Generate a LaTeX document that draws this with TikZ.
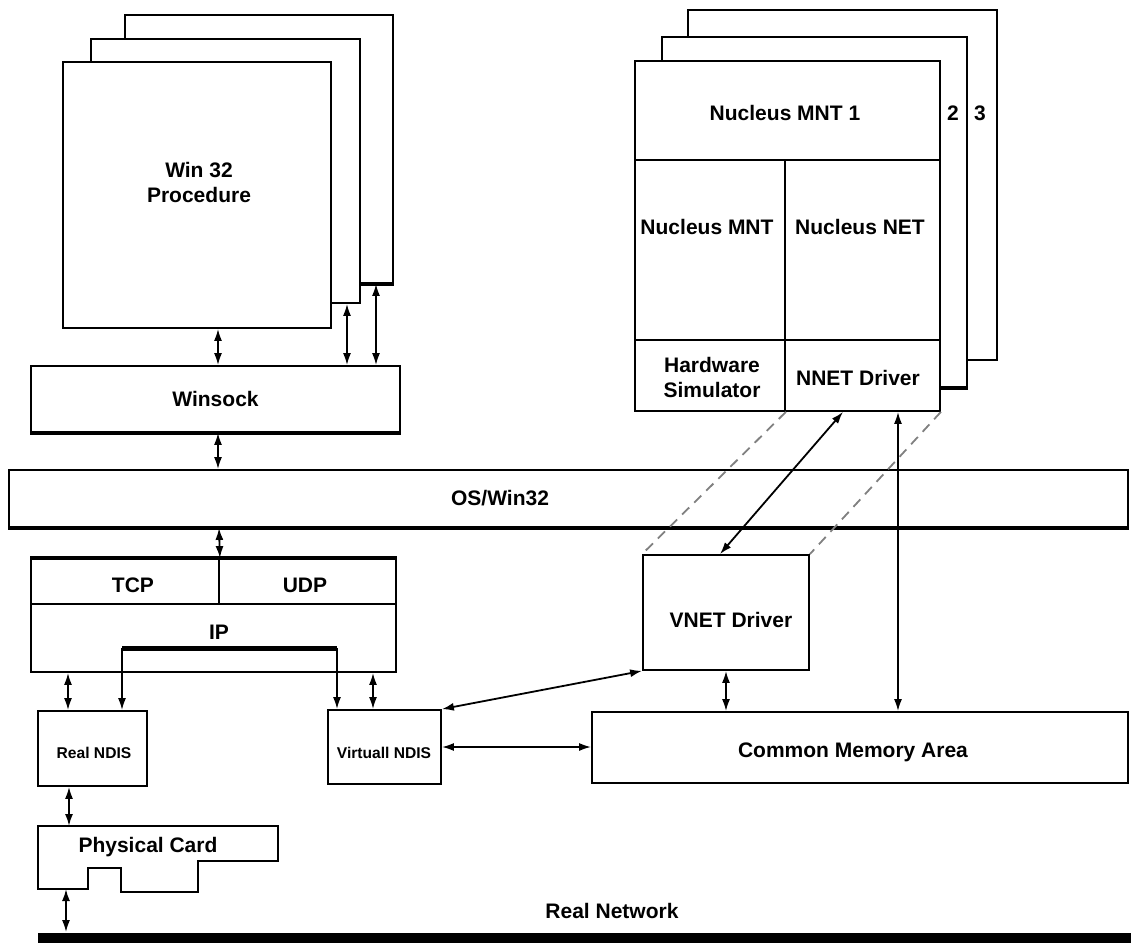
\documentclass[tikz,border=0pt]{standalone}
\usepackage{fontspec}
\setmainfont{Liberation Sans}
\usetikzlibrary{fit,arrows.meta}

\begin{document}
\begin{tikzpicture}[x=0.5pt,y=-0.5pt,line width=0.9pt,
  >={Latex[length=6pt,width=4pt]},
  box/.style={draw,fill=white,rectangle,inner sep=0pt},
  txt/.style={font=\bfseries\fontsize{10.5}{12.5}\selectfont,align=center},
  small/.style={font=\bfseries\fontsize{7.8}{9}\selectfont},
  heavy/.style={line width=1.8pt}]
\useasboundingbox (0,0) rectangle (1131,943);

% win32 procedure stack
\node[box,fit={(125,15) (393,283)}] (proc3) {};
\node[box,fit={(91,39) (360,303)}] (proc2) {};
\node[box,fit={(63,62) (331,328)}] (proc1) {};
\node[txt] (proctxt) at (199,182) {Win 32\\Procedure};
\draw[heavy] (proc2.east |- proc3.south) -- (proc3.south east);

\node[box,fit={(31,366) (400,432)}] (sock) {};
\node[txt] (socktxt) at (sock.center) {Winsock};
\draw[heavy] (sock.south west) -- (sock.south east);
\draw[<->] (proc1.south -| 218,0) -- (sock.north -| 218,0);
\draw[<->] (proc2.south -| 347,0) -- (sock.north -| 347,0);
\draw[<->] (proc3.south -| 376,0) -- (sock.north -| 376,0);

% OS band
\node[box,fit={(9,470) (1128,527)}] (os) {};
\draw[heavy] (os.south west) -- (os.south east);
\node[txt] (ostxt) at (500,498) {OS/Win32};
\draw[<->] (sock.south -| 218,0) -- (os.north -| 218,0);

% TCP/UDP/IP
\node[box,fit={(31,559) (396,672)}] (ip) {};
\node[box,fit={(31,559) (219,604)}] (tcp) {};
\node[box,fit={(219,559) (396,604)}] (udp) {};
\draw[heavy] (tcp.north west) -- (udp.north east);
\node[txt] (tcptxt) at (133,585) {TCP};
\node[txt] (udptxt) at (305,585) {UDP};
\node[txt] (iptxt) at (219,632) {IP};
\draw[<->] (os.south -| 219,0) -- (tcp.north east);

% NDIS
\node[box,fit={(38,711) (147,786)}] (rndis) {};
\node[small] (rndistxt) at (94,753) {Real NDIS};
\node[box,fit={(328,710) (441,784)}] (vndis) {};
\node[small] (vndistxt) at (384,753) {Virtuall NDIS};
\draw[<->] (ip.south -| 68,0) -- (rndis.north -| 68,0);
\draw[<->] (ip.south -| 373,0) -- (vndis.north -| 373,0);

\coordinate (ipl) at (122,648);
\coordinate (ipr) at (337,648);
\draw[->] (ipl) -- (rndis.north -| ipl);
\draw[->] (ipr) -- (vndis.north -| ipr);
\draw[line width=2.5pt] (ipl) -- (ipr);

% physical card and network
\draw (38,826) -- (278,826) -- (278,861) -- (198,861) -- (198,892) -- (121,892)
  -- (121,868) -- (88,868) -- (88,889) -- (38,889) -- cycle;
\coordinate (cardtop) at (69,826);
\coordinate (cardbot) at (66,889);
\node[txt] (cardtxt) at (148,847) {Physical Card};
\draw[<->] (rndis.south -| cardtop) -- (cardtop);
\node[fill=black,inner sep=0pt,fit={(38,933) (1131,943)}] (wire) {};
\draw[<->] (cardbot) -- (wire.north -| cardbot);
\node[txt] (wiretxt) at (612,911) {Real Network};

% nucleus stack
\node[box,fit={(688,10) (997,360)}] (nuc3) {};
\node[box,fit={(662,37) (967,387)}] (nuc2) {};
\node[box,fit={(635,61) (940,411)}] (nuc1) {};
\node[box,fit={(635,61) (940,160)}] (mnt1) {};
\node[box,fit={(635,160) (785,340)}] (mnt) {};
\node[box,fit={(785,160) (940,340)}] (nucnet) {};
\node[box,fit={(635,340) (785,411)}] (hw) {};
\node[box,fit={(785,340) (940,411)}] (nnet) {};
\draw[heavy] (nuc1.east |- nuc2.south) -- (nuc2.south east);
\node[txt] (mnt1txt) at (785,113) {Nucleus MNT 1};
\node[txt] (twotxt) at (953,113) {2};
\node[txt] (threetxt) at (980,113) {3};
\node[txt] (mnttxt) at (707,227) {Nucleus MNT};
\node[txt] (nettxt) at (860,227) {Nucleus NET};
\node[txt] (hwtxt) at (712,377) {Hardware\\Simulator};
\node[txt] (nnettxt) at (858,378) {NNET Driver};

% VNET and common memory
\node[box,fit={(643,555) (809,670)}] (vnet) {};
\node[txt] (vnettxt) at (731,620) {VNET Driver};
\node[box,fit={(592,712) (1128,783)}] (cma) {};
\node[txt] (cmatxt) at (853,752) {Common Memory Area};

\draw[dashed,gray,dash pattern=on 5pt off 3.5pt] (hw.south east) -- (vnet.north west);
\draw[dashed,gray,dash pattern=on 5pt off 3.5pt] (nnet.south east) -- (vnet.north east);
\draw[<->] (nnet.south -| 843,0) -- (vnet.north -| 720,0);
\draw[<->] (cma.north -| 898,0) -- (nnet.south -| 898,0);
\draw[<->] (vnet.south) -- (vnet.south |- cma.north);
\draw[<->] (vndis.north east) -- (vnet.south west);
\draw[<->] (vndis.east) -- (vndis.east -| cma.west);
\end{tikzpicture}
\end{document}
